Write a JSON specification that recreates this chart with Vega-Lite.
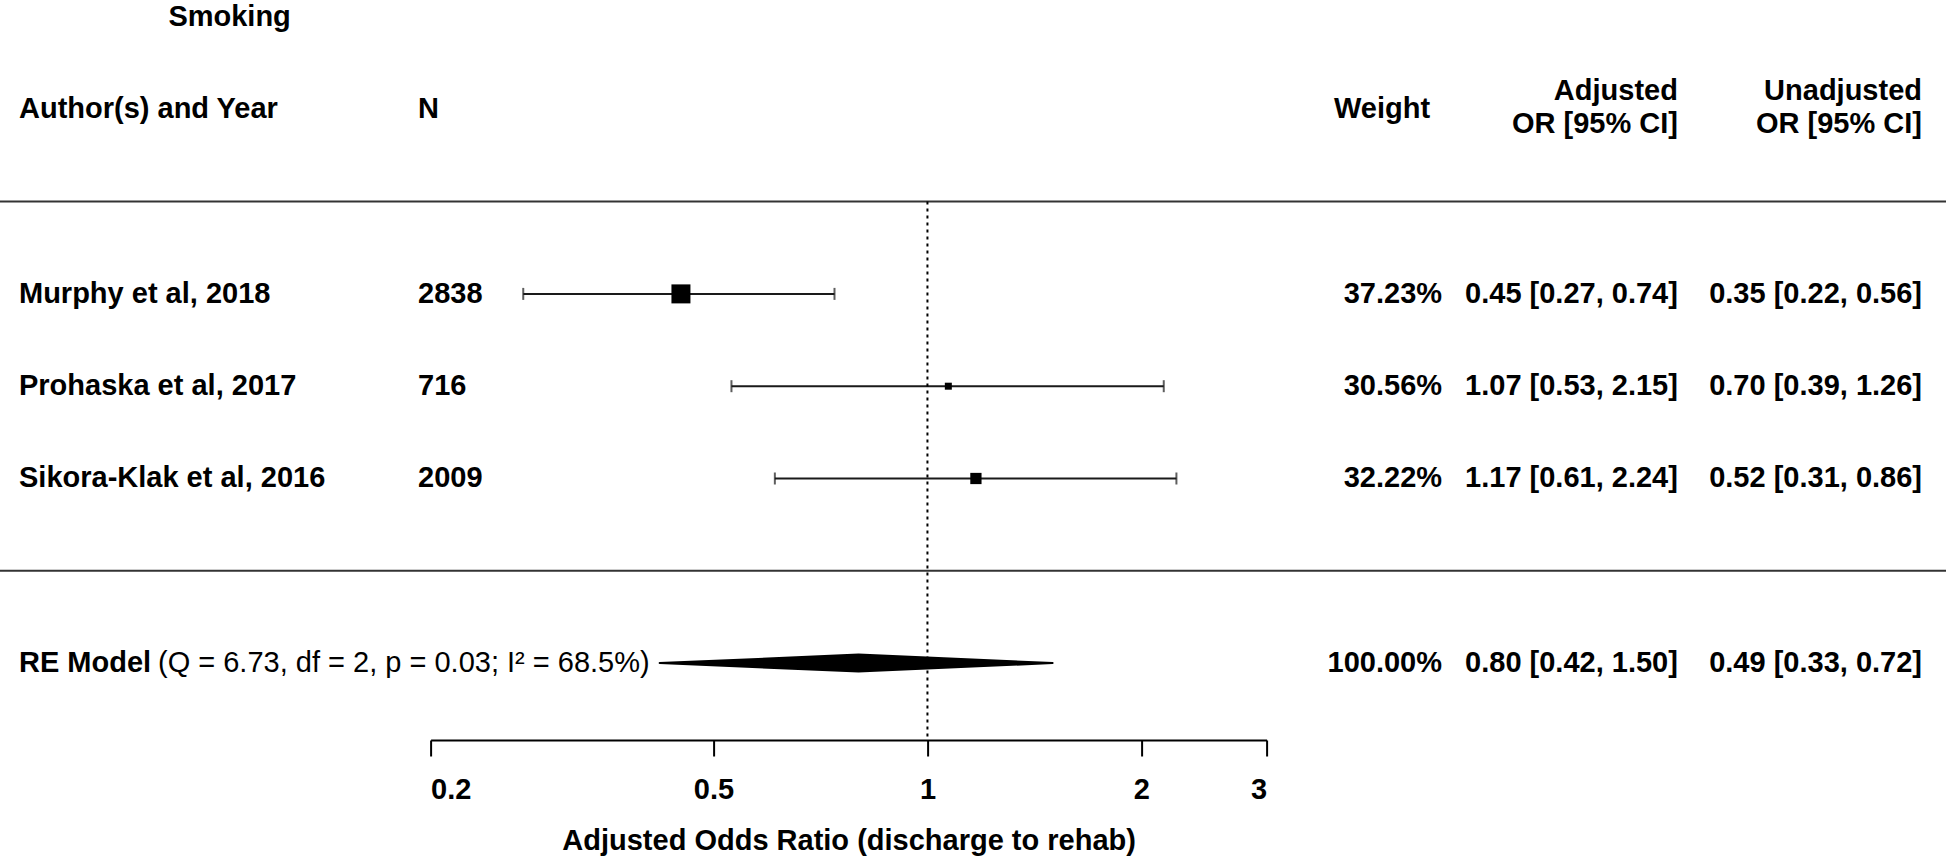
{
  "$schema": "https://vega.github.io/schema/vega-lite/v6.json",
  "width": 836,
  "height": 740,
  "autosize": {"type": "none"},
  "padding": {"left": 430.6, "top": 0, "right": 679.4, "bottom": 122},
  "background": "white",
  "config": {
    "view": {"stroke": null},
    "axis": {"grid": false},
    "text": {"font": "Liberation Sans", "fontSize": 29, "color": "#000"}
  },
  "datasets": {
    "rows": [
      {"study": "Murphy et al, 2018", "kind": "study", "n": "2838", "or": 0.45, "lo": 0.27, "hi": 0.74, "weight": 0.3723, "adj": "0.45 [0.27, 0.74]", "unadj": "0.35 [0.22, 0.56]"},
      {"study": "Prohaska et al, 2017", "kind": "study", "n": "716", "or": 1.07, "lo": 0.53, "hi": 2.15, "weight": 0.3056, "adj": "1.07 [0.53, 2.15]", "unadj": "0.70 [0.39, 1.26]"},
      {"study": "Sikora-Klak et al, 2016", "kind": "study", "n": "2009", "or": 1.17, "lo": 0.61, "hi": 2.24, "weight": 0.3222, "adj": "1.17 [0.61, 2.24]", "unadj": "0.52 [0.31, 0.86]"},
      {"study": "RE Model", "kind": "summary", "stats": "(Q = 6.73, df = 2, p = 0.03; I² = 68.5%)", "or": 0.80, "lo": 0.42, "hi": 1.50, "weight": 1.0, "adj": "0.80 [0.42, 1.50]", "unadj": "0.49 [0.33, 0.72]"}
    ]
  },
  "resolve": {"scale": {"size": "independent"}},
  "layer": [
    {
      "data": {"name": "rows"},
      "transform": [{"filter": "datum.kind == 'study'"}],
      "mark": {"type": "rule", "color": "#1a1a1a", "strokeWidth": 2},
      "encoding": {
        "x": {"field": "lo", "type": "quantitative", "scale": {"type": "log", "domain": [0.2, 3], "nice": false},
              "axis": {"values": [0.2, 0.5, 1, 2, 3], "format": "~g", "title": "Adjusted Odds Ratio (discharge to rehab)",
                       "domainColor": "#000", "domainWidth": 2, "tickColor": "#000", "tickWidth": 2, "tickSize": 16,
                       "labelFont": "Liberation Sans", "labelFontWeight": "bold", "labelFontSize": 29, "labelColor": "#000", "labelPadding": 19,
                       "titleFont": "Liberation Sans", "titleFontWeight": "bold", "titleFontSize": 29, "titleColor": "#000", "titlePadding": 22}},
        "x2": {"field": "hi"},
        "y": {"field": "study", "type": "nominal", "axis": null,
              "scale": {"type": "point", "domain": ["_title", "_header", "_top", "Murphy et al, 2018", "Prohaska et al, 2017", "Sikora-Klak et al, 2016", "_mid", "RE Model"], "padding": 0.5087, "align": 0.181}}
      }
    },
    {
      "data": {"values": [{}]},
      "mark": {"type": "rule", "color": "#333", "strokeWidth": 2},
      "encoding": {
        "x": {"datum": 0.045}, "x2": {"datum": 30},
        "y": {"datum": "_top", "type": "nominal", "axis": null}
      }
    },
    {
      "data": {"values": [{}]},
      "mark": {"type": "rule", "color": "#333", "strokeWidth": 2},
      "encoding": {
        "x": {"datum": 0.045}, "x2": {"datum": 30},
        "y": {"datum": "_mid", "type": "nominal", "axis": null}
      }
    },
    {
      "data": {"values": [{}]},
      "mark": {"type": "rule", "color": "#000", "strokeWidth": 2, "strokeDash": [3, 4]},
      "encoding": {
        "x": {"datum": 1},
        "y": {"datum": "_top", "type": "nominal", "axis": null},
        "y2": {"value": "height"}
      }
    },
    {
      "data": {"name": "rows"},
      "transform": [{"filter": "datum.kind == 'study'"}, {"fold": ["lo", "hi"], "as": ["end", "ci"]}],
      "mark": {"type": "tick", "orient": "vertical", "size": 12, "thickness": 2, "color": "#1a1a1a"},
      "encoding": {
        "x": {"field": "ci", "type": "quantitative"},
        "y": {"field": "study", "type": "nominal", "axis": null}
      }
    },
    {
      "data": {"name": "rows"},
      "transform": [{"filter": "datum.kind == 'study'"}],
      "mark": {"type": "square", "filled": true, "color": "#000", "opacity": 1},
      "encoding": {
        "x": {"field": "or", "type": "quantitative"},
        "y": {"field": "study", "type": "nominal", "axis": null},
        "size": {"field": "weight", "type": "quantitative", "scale": {"domain": [0.3056, 0.3723], "range": [49, 361]}, "legend": null}
      }
    },
    {
      "data": {"name": "rows"},
      "transform": [{"filter": "datum.kind == 'summary'"}, {"fold": ["lo", "or", "hi"], "as": ["part", "value"]}],
      "mark": {"type": "trail", "color": "#000"},
      "encoding": {
        "x": {"field": "value", "type": "quantitative"},
        "y": {"field": "study", "type": "nominal", "axis": null},
        "order": {"field": "value", "type": "quantitative"},
        "size": {"field": "part", "type": "nominal", "scale": {"type": "ordinal", "domain": ["lo", "or", "hi"], "range": [2, 19, 2]}, "legend": null}
      }
    },
    {
      "data": {"name": "rows"},
      "mark": {"type": "text", "align": "left", "baseline": "middle", "fontWeight": "bold"},
      "encoding": {
        "x": {"datum": 0.05272},
        "y": {"field": "study", "type": "nominal", "axis": null},
        "text": {"field": "study"}
      }
    },
    {
      "data": {"name": "rows"},
      "transform": [{"filter": "datum.kind == 'study'"}],
      "mark": {"type": "text", "align": "left", "baseline": "middle", "fontWeight": "bold"},
      "encoding": {
        "x": {"datum": 0.192},
        "y": {"field": "study", "type": "nominal", "axis": null},
        "text": {"field": "n"}
      }
    },
    {
      "data": {"name": "rows"},
      "transform": [{"filter": "datum.kind == 'summary'"}],
      "mark": {"type": "text", "align": "left", "baseline": "middle", "fontWeight": "normal"},
      "encoding": {
        "x": {"datum": 0.0827},
        "y": {"field": "study", "type": "nominal", "axis": null},
        "text": {"field": "stats"}
      }
    },
    {
      "data": {"name": "rows"},
      "mark": {"type": "text", "align": "right", "baseline": "middle", "fontWeight": "bold"},
      "encoding": {
        "x": {"datum": 5.296},
        "y": {"field": "study", "type": "nominal", "axis": null},
        "text": {"field": "weight", "format": ".2%"}
      }
    },
    {
      "data": {"name": "rows"},
      "mark": {"type": "text", "align": "right", "baseline": "middle", "fontWeight": "bold"},
      "encoding": {
        "x": {"datum": 11.37},
        "y": {"field": "study", "type": "nominal", "axis": null},
        "text": {"field": "adj"}
      }
    },
    {
      "data": {"name": "rows"},
      "mark": {"type": "text", "align": "right", "baseline": "middle", "fontWeight": "bold"},
      "encoding": {
        "x": {"datum": 25.07},
        "y": {"field": "study", "type": "nominal", "axis": null},
        "text": {"field": "unadj"}
      }
    },
    {
      "data": {"values": [{}]},
      "mark": {"type": "text", "align": "center", "baseline": "middle", "fontWeight": "bold"},
      "encoding": {
        "x": {"datum": 0.1043},
        "y": {"datum": "_title", "type": "nominal", "axis": null},
        "text": {"value": "Smoking"}
      }
    },
    {
      "data": {"values": [{}]},
      "mark": {"type": "text", "align": "left", "baseline": "middle", "fontWeight": "bold"},
      "encoding": {
        "x": {"datum": 0.05272},
        "y": {"datum": "_header", "type": "nominal", "axis": null},
        "text": {"value": "Author(s) and Year"}
      }
    },
    {
      "data": {"values": [{}]},
      "mark": {"type": "text", "align": "left", "baseline": "middle", "fontWeight": "bold"},
      "encoding": {
        "x": {"datum": 0.192},
        "y": {"datum": "_header", "type": "nominal", "axis": null},
        "text": {"value": "N"}
      }
    },
    {
      "data": {"values": [{}]},
      "mark": {"type": "text", "align": "right", "baseline": "middle", "fontWeight": "bold"},
      "encoding": {
        "x": {"datum": 5.094},
        "y": {"datum": "_header", "type": "nominal", "axis": null},
        "text": {"value": "Weight"}
      }
    },
    {
      "data": {"values": [{}]},
      "mark": {"type": "text", "align": "right", "baseline": "middle", "fontWeight": "bold", "lineHeight": 33, "dy": -18},
      "encoding": {
        "x": {"datum": 11.37},
        "y": {"datum": "_header", "type": "nominal", "axis": null},
        "text": {"value": ["Adjusted", "OR [95% CI]"]}
      }
    },
    {
      "data": {"values": [{}]},
      "mark": {"type": "text", "align": "right", "baseline": "middle", "fontWeight": "bold", "lineHeight": 33, "dy": -18},
      "encoding": {
        "x": {"datum": 25.07},
        "y": {"datum": "_header", "type": "nominal", "axis": null},
        "text": {"value": ["Unadjusted", "OR [95% CI]"]}
      }
    }
  ]
}
